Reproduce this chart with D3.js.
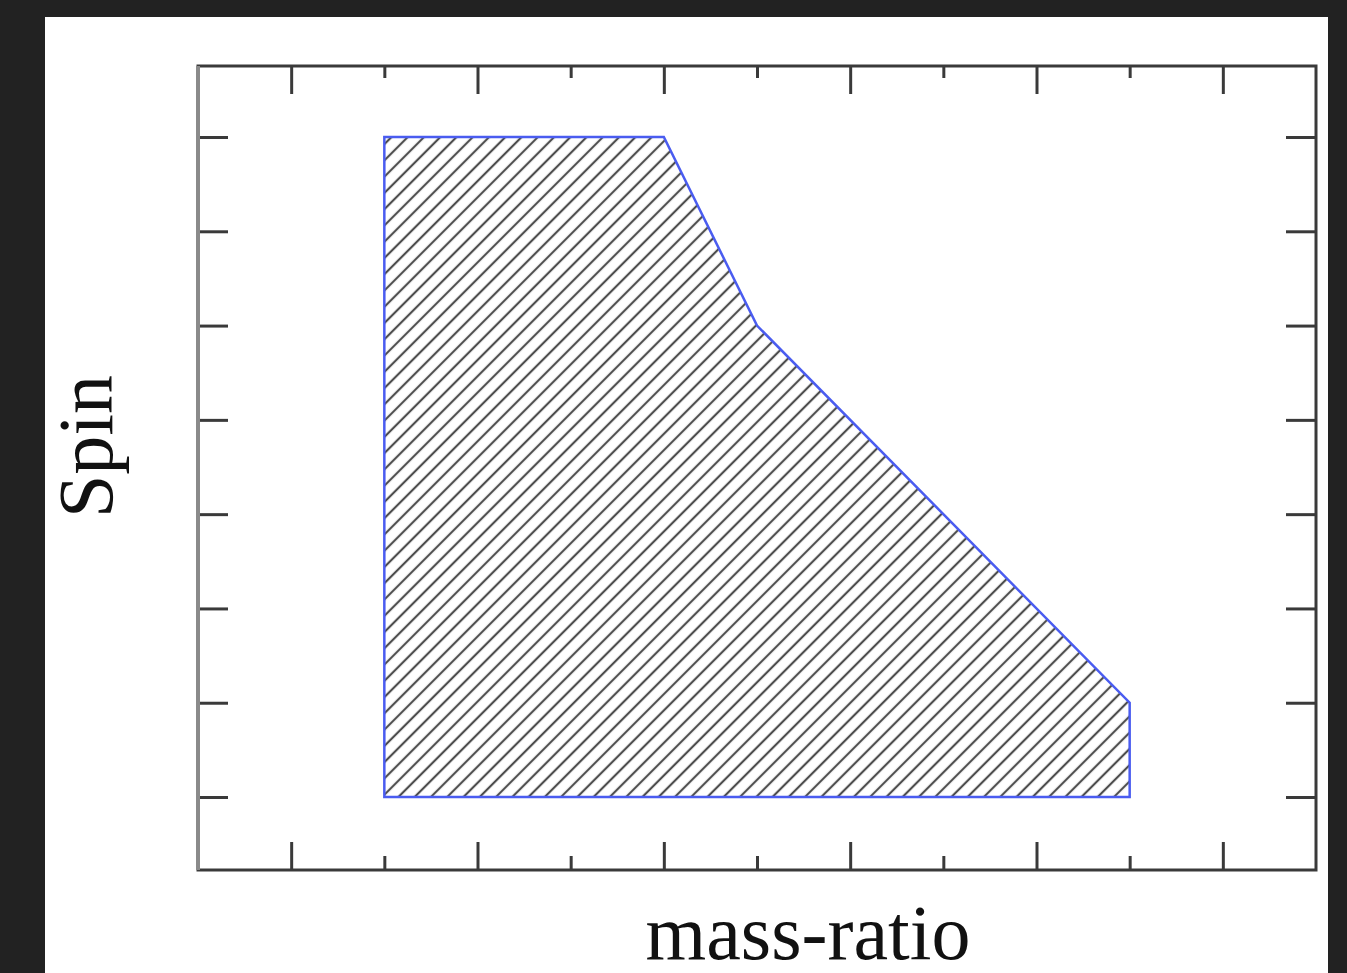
<!DOCTYPE html>
<html>
<head>
<meta charset="utf-8">
<script src="https://cdn.jsdelivr.net/npm/d3@7"></script>
<style>
  html, body { margin: 0; padding: 0; background: #222222; }
  svg { display: block; }
</style>
</head>
<body>
<script>
// Allowed region in the (mass-ratio, spin) plane, in tick units
const regionX = [2, 5, 6, 10, 10, 2];
const regionY = [7, 7, 5, 1, 0, 0];

// Tick positions (no tick labels are shown)
const xMajorTicks = [1, 3, 5, 7, 9, 11];
const xMinorTicks = [2, 4, 6, 8, 10];
const yTicks = [0, 1, 2, 3, 4, 5, 6, 7];

const xTitle = "mass-ratio";
const yTitle = "Spin";

const W = 1347, H = 973;
const plot = { left: 198, right: 1316, top: 66, bottom: 870 };

const svg = d3.select("body").append("svg")
  .attr("width", W).attr("height", H);

// white page area
svg.append("rect")
  .attr("x", 45).attr("y", 17)
  .attr("width", 1283).attr("height", H - 17)
  .attr("fill", "#ffffff");

const x = d3.scaleLinear().domain([0, 12]).range([plot.left, plot.right]);
const y = d3.scaleLinear().domain([-0.774, 7.753]).range([plot.bottom, plot.top]);

// diagonal hatch pattern
const defs = svg.append("defs");
const gap = 11.5;
const pat = defs.append("pattern")
  .attr("id", "hatch")
  .attr("patternUnits", "userSpaceOnUse")
  .attr("width", gap).attr("height", gap)
  .attr("patternTransform", "rotate(-45)");
pat.append("line")
  .attr("x1", 0).attr("x2", gap)
  .attr("y1", gap / 2).attr("y2", gap / 2)
  .attr("stroke", "#4d4d4d")
  .attr("stroke-width", 2.2);

const pts = regionX.map((d, i) => [x(d), y(regionY[i])]);
const line = d3.line().curve(d3.curveLinearClosed);

svg.append("path")
  .attr("d", line(pts))
  .attr("fill", "url(#hatch)")
  .attr("stroke", "#4a5cf0")
  .attr("stroke-width", 2.5)
  .attr("stroke-linejoin", "miter");

// ticks (all pointing into the frame)
function styleAxis(g) {
  g.select(".domain").remove();
  g.selectAll(".tick line").attr("stroke", "#3a3a3a").attr("stroke-width", 3);
  g.selectAll(".tick text").remove();
}

svg.append("g").attr("transform", `translate(0,${plot.bottom})`)
  .call(d3.axisBottom(x).tickValues(xMajorTicks).tickSizeInner(-28).tickSizeOuter(0).tickFormat(""))
  .call(styleAxis);
svg.append("g").attr("transform", `translate(0,${plot.bottom})`)
  .call(d3.axisBottom(x).tickValues(xMinorTicks).tickSizeInner(-14).tickSizeOuter(0).tickFormat(""))
  .call(styleAxis);
svg.append("g").attr("transform", `translate(0,${plot.top})`)
  .call(d3.axisTop(x).tickValues(xMajorTicks).tickSizeInner(-28).tickSizeOuter(0).tickFormat(""))
  .call(styleAxis);
svg.append("g").attr("transform", `translate(0,${plot.top})`)
  .call(d3.axisTop(x).tickValues(xMinorTicks).tickSizeInner(-12).tickSizeOuter(0).tickFormat(""))
  .call(styleAxis);
svg.append("g").attr("transform", `translate(${plot.left},0)`)
  .call(d3.axisLeft(y).tickValues(yTicks).tickSizeInner(-30).tickSizeOuter(0).tickFormat(""))
  .call(styleAxis);
svg.append("g").attr("transform", `translate(${plot.right},0)`)
  .call(d3.axisRight(y).tickValues(yTicks).tickSizeInner(-30).tickSizeOuter(0).tickFormat(""))
  .call(styleAxis);

// frame
svg.append("rect")
  .attr("x", plot.left).attr("y", plot.top)
  .attr("width", plot.right - plot.left).attr("height", plot.bottom - plot.top)
  .attr("fill", "none")
  .attr("stroke", "#3a3a3a")
  .attr("stroke-width", 3);
svg.append("line")
  .attr("x1", plot.left).attr("x2", plot.left)
  .attr("y1", plot.top).attr("y2", plot.bottom)
  .attr("stroke", "#8a8a8a").attr("stroke-width", 4);

// axis titles
svg.append("text")
  .attr("x", 808)
  .attr("y", 959)
  .attr("text-anchor", "middle")
  .attr("font-family", "'Liberation Serif', 'DejaVu Serif', serif")
  .attr("font-size", 78)
  .attr("fill", "#111111")
  .text(xTitle);

svg.append("text")
  .attr("transform", `translate(112,${(375 + 518) / 2}) rotate(-90)`)
  .attr("text-anchor", "middle")
  .attr("font-family", "'Liberation Serif', 'DejaVu Serif', serif")
  .attr("font-size", 78)
  .attr("fill", "#111111")
  .text(yTitle);
</script>
</body>
</html>
